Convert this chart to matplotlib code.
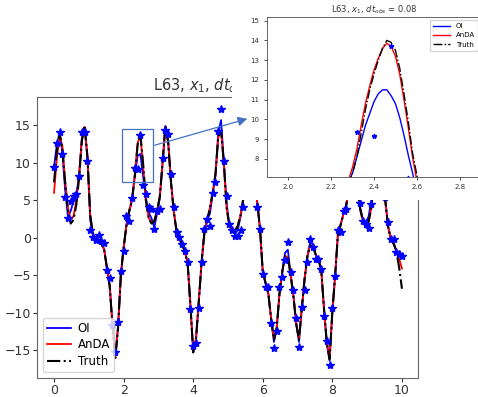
import numpy as np
import matplotlib
matplotlib.use('Agg')
from matplotlib import pyplot as plt
from matplotlib.patches import Rectangle, FancyArrowPatch

# 時刻 (dt_obs = 0.08)
t = np.linspace(0, 10, 126)

truth = [7.4, 11.6, 14.0, 11.8, 7.2, 3.6, 1.9, 2.4, 4.4, 8.0,
         12.9, 15.0, 10.8, 3.0, 0.4, -0.2, -0.5, -0.8, -1.6, -4.0,
         -6.5, -11.8, -16.2, -12.0, -5.0, -1.3, 1.6, 3.6, 5.0, 8.1,
         12.3, 13.9, 9.9, 5.0, 2.6, 1.9, 2.2, 3.5, 5.5, 10.0,
         15.0, 12.8, 7.5, 3.5, 0.9, -0.1, -0.9, -1.8, -3.4, -9.0,
         -15.3, -13.5, -8.5, -3.3, 0.6, 2.3, 4.0, 6.0, 8.5, 13.5,
         14.3, 10.0, 4.0, 1.6, 0.8, 0.9, 1.6, 3.0, 5.2, 9.0,
         13.0, 14.0, 9.0, 4.8, 1.2, -4.6, -6.0, -7.5, -10.8, -13.6,
         -12.0, -7.5, -4.5, -2.4, -2.6, -5.0, -7.8, -11.5, -13.6, -9.5,
         -5.5, -2.5, -1.0, -1.2, -2.2, -2.9, -4.3, -9.5, -14.0, -16.2,
         -9.8, -5.0, 0.5, 1.8, 3.2, 4.4, 7.0, 12.5, 12.0, 6.5,
         3.8, 2.2, 1.7, 2.1, 4.0, 8.0, 13.0, 14.0, 9.5, 5.0,
         1.5, -0.2, -0.8, -1.8, -4.0, -6.8]

anda = [6.0, 10.6, 13.6, 12.2, 7.6, 4.0, 2.4, 2.9, 4.9, 8.4,
        13.2, 14.8, 10.9, 3.1, 0.4, -0.2, -0.5, -0.8, -1.6, -4.0,
        -6.5, -11.7, -16.0, -12.0, -5.0, -1.3, 1.6, 3.6, 5.1, 8.4,
        12.6, 13.7, 9.6, 4.9, 2.7, 2.0, 2.3, 3.6, 5.6, 10.1,
        14.9, 12.7, 7.5, 3.5, 0.9, -0.1, -0.9, -1.8, -3.4, -9.0,
        -15.1, -13.4, -8.5, -3.3, 0.6, 2.3, 4.0, 6.0, 8.5, 13.4,
        14.3, 10.0, 4.0, 1.6, 0.8, 0.9, 1.6, 3.0, 5.2, 9.0,
        13.0, 14.0, 9.0, 4.8, 1.2, -4.6, -6.0, -7.5, -10.8, -13.5,
        -12.0, -7.5, -4.5, -2.4, -2.6, -5.0, -7.8, -11.4, -13.5, -9.5,
        -5.5, -2.5, -1.0, -1.2, -2.2, -2.9, -4.3, -9.5, -14.0, -16.0,
        -9.8, -5.0, 0.5, 1.8, 3.2, 4.4, 7.0, 12.5, 12.0, 6.5,
        3.8, 2.2, 1.8, 2.2, 4.0, 8.0, 13.0, 14.0, 9.5, 5.0,
        1.5, -0.2, -0.8, -1.8, -2.8, -4.1]

oi = [9.5, 12.4, 14.0, 11.4, 6.3, 2.8, 3.6, 4.9, 5.8, 8.3,
      13.3, 14.6, 10.6, 2.4, 0.3, -0.2, -0.4, -0.7, -1.5, -4.1,
      -6.3, -11.7, -15.8, -11.8, -4.9, -1.4, 1.8, 3.4, 5.0, 8.1,
      10.9, 11.2, 8.2, 5.3, 3.4, 2.6, 1.4, 3.2, 5.3, 10.0,
      14.9, 12.9, 7.6, 3.6, 0.9, -0.1, -0.9, -1.8, -3.4, -9.1,
      -15.0, -13.6, -8.6, -3.3, 0.7, 2.4, 3.2, 5.9, 8.3, 14.0,
      15.7, 10.2, 4.6, 1.7, 0.8, 0.6, 1.0, 2.8, 5.2, 9.0,
      13.0, 14.0, 9.0, 4.7, 1.2, -4.6, -6.1, -7.4, -10.9, -13.9,
      -12.2, -7.3, -4.6, -2.0, -1.6, -4.8, -7.6, -11.4, -13.9, -9.5,
      -5.7, -2.6, -0.6, -0.9, -2.3, -2.9, -4.2, -9.6, -14.2, -16.4,
      -9.8, -5.0, 0.6, 1.7, 3.3, 4.3, 7.0, 12.5, 12.0, 6.6,
      4.0, 2.4, 2.1, 2.8, 5.0, 8.2, 13.0, 14.0, 9.6, 5.1,
      1.6, -0.1, -0.6, -1.8, -2.1, -2.3]

obs = [9.5, 12.7, 14.1, 11.2, 5.4, 2.7, 4.9, 5.6, 5.9, 8.2,
       14.1, 14.1, 10.3, 1.0, 0.1, -0.3, 0.4, -0.4, -0.7, -4.3,
       -5.3, -11.6, -15.2, -11.2, -4.4, -1.8, 2.9, 2.3, 5.3, 9.35,
       9.15, 13.7, 7.05, 5.8, 4.1, 3.8, 1.2, 3.6, 3.8, 10.7,
       14.4, 13.8, 8.5, 4.1, 0.75, 0.1, -0.8, -1.7, -3.2, -9.5,
       -14.5, -14.0, -9.4, -3.2, 1.2, 2.5, 1.6, 6.0, 7.4, 14.2,
       17.2, 10.2, 5.6, 1.9, 1.0, 0.3, 0.3, 1.0, 4.1, 9.5,
       13.2, 13.5, 8.6, 4.1, 1.2, -4.8, -6.5, -6.6, -11.4, -14.7,
       -12.5, -6.5, -5.2, -3.0, -0.5, -4.5, -7.0, -10.7, -14.6, -9.2,
       -7.0, -3.2, -0.2, -1.2, -2.8, -2.8, -4.1, -10.5, -13.8, -17.0,
       -9.4, -5.1, 1.0, 0.8, 3.6, 3.9, 7.5, 12.0, 11.8, 6.8,
       4.7, 2.3, 1.9, 1.3, 4.5, 8.2, 12.8, 13.5, 9.8, 5.5,
       2.1, -0.1, -0.2, -1.9, -2.1, -2.4]

# 拡大部分 (2.28 - 2.62)
t_zoom = np.linspace(2.28, 2.62, 18)
truth_zoom = [6.7, 7.3, 8.1, 9.3, 10.5, 11.5, 12.3, 13.0, 13.6,
              14.0, 13.9, 13.5, 12.6, 11.3, 9.9, 8.3, 7.2, 6.0]
anda_zoom = [6.9, 7.6, 8.5, 9.7, 10.8, 11.7, 12.5, 13.1, 13.6,
             13.85, 13.7, 13.2, 12.3, 11.0, 9.6, 8.1, 6.9, 5.7]
oi_zoom = [6.8, 7.3, 8.1, 8.9, 9.7, 10.3, 10.9, 11.3, 11.5,
           11.5, 11.2, 10.8, 10.1, 9.2, 8.2, 7.3, 6.3, 5.2]

title = r'L63, $x_1$, $dt_{obs}$ = 0.08'
spine_col = '#666666'
box_col = '#4472c4'

fig = plt.figure(figsize=(4.78, 3.97), dpi=100)

# メインのグラフ
ax = fig.add_axes([0.0774, 0.048, 0.797, 0.708])
ax.plot(t, oi, color='b', lw=1.3, label='OI')
ax.plot(t, anda, color='r', lw=1.3, label='AnDA')
ax.plot(t, truth, 'k-.', lw=1.5, label='Truth')
ax.plot(t, obs, 'b*', ms=6)
ax.set_xlim(-0.49, 10.46)
ax.set_ylim(-18.7, 18.8)
ax.set_xticks([0, 2, 4, 6, 8, 10])
ax.set_yticks([-15, -10, -5, 0, 5, 10, 15])
ax.tick_params(labelsize=9, colors='#333333', length=3, pad=1.5)
for s in ax.spines.values():
    s.set_color(spine_col)
ax.set_title(title, fontsize=10.5, color='#333333', pad=5)
ax.legend(loc='lower left', fontsize=8.5, handlelength=2.0,
          handletextpad=0.6, borderpad=0.35, labelspacing=0.3)
ax.add_patch(Rectangle((1.96, 7.4), 0.87, 7.1, fill=False,
                       edgecolor=box_col, lw=0.9, zorder=5))

# 拡大図の白い背景
bg = fig.add_axes([0.4854, 0.4962, 0.5146, 0.5038], zorder=5)
bg.set_facecolor('white')
bg.axis('off')
bg.add_patch(Rectangle((0, 0), 1, 1, color='white', transform=bg.transAxes))

# 拡大図
ax2 = fig.add_axes([0.5586, 0.5549, 0.4477, 0.4030], zorder=6)
ax2.plot(t_zoom, oi_zoom, color='b', lw=1.0, label='OI')
ax2.plot(t_zoom, anda_zoom, color='r', lw=1.0, label='AnDA')
ax2.plot(t_zoom, truth_zoom, 'k-.', lw=1.0, label='Truth')
ax2.plot(t, obs, 'b*', ms=3.5)
ax2.set_xlim(1.9, 2.9)
ax2.set_ylim(7.1, 15.2)
ax2.set_xticks([2.0, 2.2, 2.4, 2.6, 2.8])
ax2.set_yticks([8, 9, 10, 11, 12, 13, 14, 15])
ax2.tick_params(labelsize=5, length=2, width=0.6, colors='#333333')
for s in ax2.spines.values():
    s.set_color(spine_col)
    s.set_linewidth(0.7)
ax2.set_title(title, fontsize=6, color='#333333', pad=3)
ax2.legend(loc='upper right', fontsize=5, handlelength=2.5)

# 矢印
arrow = FancyArrowPatch((152 / 478, 1 - 146 / 397), (250 / 478, 1 - 118 / 397),
                        transform=fig.transFigure, arrowstyle='-|>',
                        mutation_scale=14, color=box_col, lw=0.9, zorder=10)
fig.add_artist(arrow)

plt.savefig('out.png', dpi=100)
plt.close()
